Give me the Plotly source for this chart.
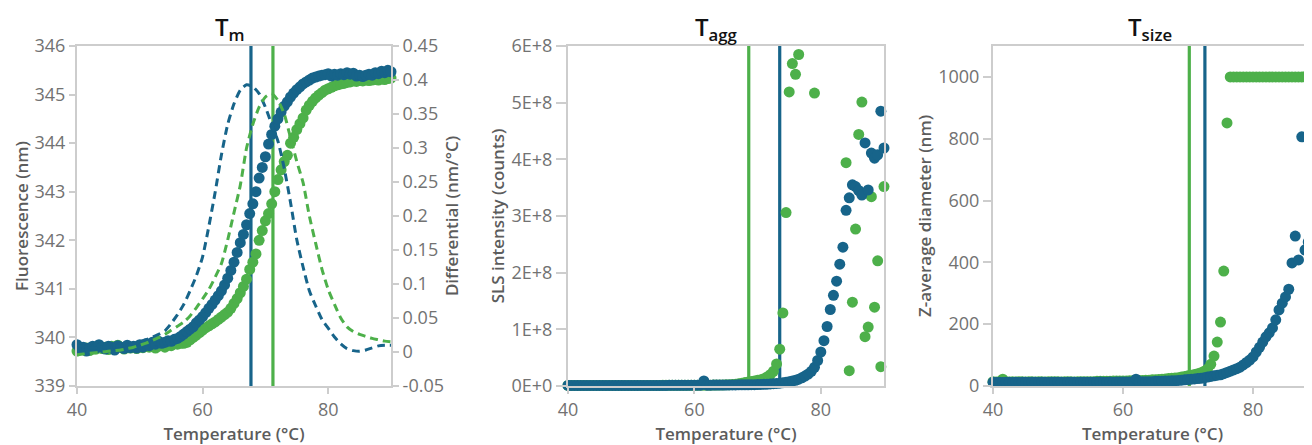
import plotly.graph_objects as go

# ---------------- data ----------------
TEMP_HALF = [
    40.0, 40.5, 41.0, 41.5, 42.0, 42.5, 43.0, 43.5, 44.0, 44.5,
    45.0, 45.5, 46.0, 46.5, 47.0, 47.5, 48.0, 48.5, 49.0, 49.5,
    50.0, 50.5, 51.0, 51.5, 52.0, 52.5, 53.0, 53.5, 54.0, 54.5,
    55.0, 55.5, 56.0, 56.5, 57.0, 57.5, 58.0, 58.5, 59.0, 59.5,
    60.0, 60.5, 61.0, 61.5, 62.0, 62.5, 63.0, 63.5, 64.0, 64.5,
    65.0, 65.5, 66.0, 66.5, 67.0, 67.5, 68.0, 68.5, 69.0, 69.5,
    70.0, 70.5, 71.0, 71.5, 72.0, 72.5, 73.0, 73.5, 74.0, 74.5,
    75.0, 75.5, 76.0, 76.5, 77.0, 77.5, 78.0, 78.5, 79.0, 79.5,
    80.0, 80.5, 81.0, 81.5, 82.0, 82.5, 83.0, 83.5, 84.0, 84.5,
    85.0, 85.5, 86.0, 86.5, 87.0, 87.5, 88.0, 88.5, 89.0, 89.5,
    90.0,
]
TEMP_WHOLE = [
    40, 41, 42, 43, 44, 45, 46, 47, 48, 49,
    50, 51, 52, 53, 54, 55, 56, 57, 58, 59,
    60, 61, 62, 63, 64, 65, 66, 67, 68, 69,
    70, 71, 72, 73, 74, 75, 76, 77, 78, 79,
    80, 81, 82, 83, 84, 85, 86, 87, 88, 89,
    90,
]

# Fluorescence (nm)
FLUO_BLUE = [
    339.85, 339.75, 339.80, 339.72, 339.78, 339.82, 339.78, 339.85, 339.80, 339.76,
    339.82, 339.80, 339.74, 339.83, 339.80, 339.77, 339.84, 339.79, 339.82, 339.78,
    339.85, 339.80, 339.87, 339.83, 339.90, 339.86, 339.92, 339.88, 339.90, 339.93,
    339.92, 339.96, 339.98, 340.02, 340.07, 340.12, 340.17, 340.22, 340.30, 340.36,
    340.43, 340.51, 340.60, 340.68, 340.77, 340.86, 340.96, 341.08, 341.22, 341.38,
    341.55, 341.75, 341.95, 342.12, 342.32, 342.55, 342.75, 343.00, 343.28, 343.50,
    343.72, 343.98, 344.18, 344.35, 344.50, 344.64, 344.76, 344.85, 344.95, 345.03,
    345.10, 345.16, 345.22, 345.26, 345.30, 345.34, 345.36, 345.38, 345.40, 345.41,
    345.43, 345.38, 345.42, 345.40, 345.43, 345.41, 345.45, 345.42, 345.44, 345.38,
    345.40, 345.37, 345.40, 345.42, 345.40, 345.45, 345.43, 345.48, 345.45, 345.50,
    345.47,
]
FLUO_GREEN = [
    339.72, 339.80, 339.75, 339.78, 339.73, 339.80, 339.76, 339.82, 339.77, 339.80,
    339.75, 339.82, 339.78, 339.84, 339.80, 339.76, 339.82, 339.78, 339.80, 339.77,
    339.82, 339.79, 339.84, 339.80, 339.83, 339.78, 339.82, 339.85, 339.80, 339.86,
    339.83, 339.88, 339.86, 339.88, 339.88, 339.90, 339.95, 340.00, 340.05, 340.10,
    340.15, 340.20, 340.24, 340.28, 340.32, 340.37, 340.42, 340.47, 340.52, 340.60,
    340.70, 340.80, 340.92, 341.05, 341.20, 341.40, 341.55, 341.72, 342.00, 342.20,
    342.40, 342.55, 342.75, 343.00, 343.25, 343.45, 343.62, 343.75, 344.00, 344.12,
    344.28, 344.40, 344.52, 344.68, 344.78, 344.86, 344.93, 344.99, 345.04, 345.09,
    345.12, 345.15, 345.18, 345.20, 345.22, 345.23, 345.25, 345.26, 345.28, 345.27,
    345.29, 345.28, 345.30, 345.29, 345.30, 345.31, 345.30, 345.32, 345.31, 345.33,
    345.34,
]

# First derivative (nm/°C)
DERIV_BLUE = [
    0.010, 0.008, 0.006, 0.006, 0.007, 0.007, 0.008, 0.009, 0.010, 0.012,
    0.015, 0.018, 0.022, 0.026, 0.031, 0.042, 0.055, 0.070, 0.090, 0.112,
    0.140, 0.185, 0.235, 0.290, 0.335, 0.365, 0.385, 0.393, 0.390, 0.380,
    0.360, 0.335, 0.310, 0.270, 0.220, 0.165, 0.125, 0.090, 0.068, 0.048,
    0.035, 0.022, 0.012, 0.005, 0.002, 0.001, 0.003, 0.006, 0.009, 0.010,
    0.010,
]
DERIV_GREEN = [
    -0.004, -0.003, -0.002, -0.001, 0.000, 0.001, 0.002, 0.003, 0.005, 0.007,
    0.010, 0.013, 0.017, 0.021, 0.026, 0.032, 0.038, 0.044, 0.053, 0.065,
    0.078, 0.092, 0.110, 0.130, 0.165, 0.205, 0.245, 0.300, 0.335, 0.360,
    0.375, 0.380, 0.370, 0.350, 0.315, 0.280, 0.249, 0.200, 0.160, 0.122,
    0.092, 0.070, 0.050, 0.037, 0.030, 0.026, 0.023, 0.020, 0.018, 0.016,
    0.015,
]

# SLS intensity, in units of 1E+8 counts (None = no point)
SLS_BLUE_E8 = [
    0.010, 0.010, 0.010, 0.010, 0.010, 0.010, 0.010, 0.010, 0.010, 0.010,
    0.010, 0.010, 0.010, 0.010, 0.010, 0.010, 0.010, 0.010, 0.010, 0.010,
    0.010, 0.010, 0.010, 0.010, 0.010, 0.010, 0.010, 0.010, 0.010, 0.010,
    0.010, 0.010, 0.012, 0.012, 0.012, 0.012, 0.013, 0.013, 0.013, 0.014,
    0.014, 0.014, 0.015, 0.090, 0.015, 0.015, 0.016, 0.016, 0.016, 0.017,
    0.017, 0.018, 0.018, 0.019, 0.020, 0.020, 0.021, 0.022, 0.023, 0.024,
    0.026, 0.028, 0.030, 0.033, 0.036, 0.040, 0.045, 0.050, 0.058, 0.065,
    0.075, 0.088, 0.100, 0.120, 0.145, 0.175, 0.210, 0.260, 0.330, 0.450,
    0.600, 0.800, 1.050, 1.350, 1.600, 1.850, 2.150, 2.450, 3.100, 3.320,
    3.550, 3.520, 3.450, 3.370, 4.290, 3.460, 4.110, 4.020, 4.080, 4.850,
    4.200,
]
SLS_GREEN_E8 = [
    0.010, 0.010, 0.010, 0.010, 0.010, 0.010, 0.010, 0.010, 0.010, 0.010,
    0.010, 0.010, 0.010, 0.010, 0.010, 0.010, 0.010, 0.010, 0.010, 0.010,
    0.010, 0.010, 0.010, 0.010, 0.010, 0.010, 0.010, 0.010, 0.010, 0.010,
    0.012, 0.012, 0.012, 0.012, 0.012, 0.012, 0.012, 0.012, 0.012, 0.012,
    0.013, 0.013, 0.014, 0.014, 0.015, 0.015, 0.016, 0.017, 0.018, 0.019,
    0.020, 0.022, 0.025, 0.030, 0.040, 0.050, 0.060, 0.070, 0.080, 0.090,
    0.100, 0.110, 0.130, 0.160, 0.200, 0.260, 0.390, 0.650, 1.290, 3.060,
    5.190, 5.690, 5.500, 5.850, None, None, None, None, 5.170, None,
    None, None, None, None, None, None, None, None, 3.940, 0.270,
    1.480, 2.770, 4.440, 5.010, 0.870, 1.040, 3.340, 1.390, 2.210, 0.340,
    3.520,
]

# Z-average diameter (nm)
SIZE_BLUE = [
    12, 11, 12, 11, 12, 12, 11, 12, 11, 12,
    12, 11, 12, 12, 11, 12, 12, 11, 12, 12,
    12, 12, 11, 12, 12, 12, 11, 12, 12, 12,
    12, 12, 12, 13, 12, 12, 13, 12, 13, 13,
    13, 13, 13, 13, 22, 13, 14, 14, 14, 14,
    15, 15, 15, 16, 16, 17, 17, 18, 19, 20,
    21, 22, 23, 24, 25, 27, 29, 31, 33, 35,
    36, 40, 44, 48, 52, 56, 61, 68, 76, 84,
    94, 110, 125, 142, 159, 172, 188, 214, 246, 268,
    288, 313, 398, 485, 408, 806, 440, 466, 822, 760,
    850,
]
SIZE_GREEN = [
    14, 13, 14, 22, 14, 13, 14, 13, 14, 14,
    13, 14, 14, 13, 14, 14, 13, 14, 14, 14,
    14, 13, 14, 14, 14, 13, 14, 14, 14, 14,
    14, 14, 15, 15, 15, 15, 15, 16, 16, 16,
    16, 16, 17, 17, 17, 18, 18, 19, 19, 20,
    20, 21, 22, 23, 24, 25, 26, 27, 29, 31,
    33, 35, 37, 40, 43, 48, 55, 70, 97, 142,
    207, 372, 851, 1000, 1000, 1000, 1000, 1000, 1000, 1000,
    1000, 1000, 1000, 1000, 1000, 1000, 1000, 1000, 1000, 1000,
    1000, 1000, 1000, 1000, 1000, 1000, 1000, 1000, 1000, 1000,
    1000,
]

# Transition temperatures (°C)
TM_BLUE, TM_GREEN = 67.7, 71.2
TAGG_BLUE, TAGG_GREEN = 73.5, 68.6
TSIZE_BLUE, TSIZE_GREEN = 72.6, 70.2

# Tick labels
DIFF_TICKVALS = [-0.05, 0, 0.05, 0.1, 0.15, 0.2, 0.25, 0.3, 0.35, 0.4, 0.45]
DIFF_TICKTEXT = ["-0.05", "0", "0.05", "0.1", "0.15", "0.2", "0.25", "0.3", "0.35", "0.4", "0.45"]
SLS_TICKVALS_E8 = [0, 1, 2, 3, 4, 5, 6]
SLS_TICKTEXT = ["0E+0", "1E+8", "2E+8", "3E+8", "4E+8", "5E+8", "6E+8"]

# ---------------- styling ----------------
BLUE = "#17648a"
GREEN = "#4db04a"
FRAME = "#cdcdcd"
FONT = "Open Sans"
TICK_FONT = dict(family=FONT, size=18, color="#727272")
AX_TITLE_FONT = dict(family=FONT, size=17, color="#5c5c5c", weight=600)
PAGE_W, PAGE_H, BODY = 1312, 445, 8      # the page body has an 8px margin
W, H = PAGE_W - BODY, PAGE_H - BODY
MS = 11


def fx(p):   # page pixel -> paper fraction
    return (p - BODY) / W


def fy(p):
    return 1 - (p - BODY) / H


Y_DOM = [fy(386), fy(46)]

fig = go.Figure()


def dots(x, y, color, xa, ya):
    fig.add_trace(go.Scatter(
        x=x, y=y, mode="markers", xaxis=xa, yaxis=ya,
        marker=dict(size=MS, color=color, line=dict(width=0)),
        cliponaxis=False, showlegend=False, hoverinfo="skip"))


def dashed(x, y, color, xa, ya):
    fig.add_trace(go.Scatter(
        x=x, y=y, mode="lines", xaxis=xa, yaxis=ya,
        line=dict(color=color, width=3, dash="8px,5px", shape="spline", smoothing=0.6),
        showlegend=False, hoverinfo="skip"))


# Panel 1: Tm
dots(TEMP_HALF, FLUO_GREEN, GREEN, "x", "y")
dots(TEMP_HALF, FLUO_BLUE, BLUE, "x", "y")
dashed(TEMP_WHOLE, DERIV_BLUE, BLUE, "x", "y2")
dashed(TEMP_WHOLE, DERIV_GREEN, GREEN, "x", "y2")

# Panel 2: Tagg
dots(TEMP_HALF, [None if v is None else v * 1e8 for v in SLS_GREEN_E8], GREEN, "x2", "y3")
dots(TEMP_HALF, [v * 1e8 for v in SLS_BLUE_E8], BLUE, "x2", "y3")

# Panel 3: Tsize
dots(TEMP_HALF, SIZE_GREEN, GREEN, "x3", "y4")
dots(TEMP_HALF, SIZE_BLUE, BLUE, "x3", "y4")

# vertical transition lines
for xref, yref, t, c in [
    ("x", "y", TM_BLUE, BLUE), ("x", "y", TM_GREEN, GREEN),
    ("x2", "y3", TAGG_GREEN, GREEN), ("x2", "y3", TAGG_BLUE, BLUE),
    ("x3", "y4", TSIZE_GREEN, GREEN), ("x3", "y4", TSIZE_BLUE, BLUE),
]:
    fig.add_shape(type="line", xref=xref, yref=yref + " domain", x0=t, x1=t, y0=0, y1=1,
                  line=dict(color=c, width=3.2), layer="below")

common_x = dict(
    showline=True, linecolor=FRAME, linewidth=2, mirror=True,
    ticks="outside", ticklen=6, tickwidth=1.5, tickcolor=FRAME,
    showgrid=False, zeroline=False, tickfont=TICK_FONT, automargin=False,
    tickvals=[40, 60, 80],
    title=dict(text="Temperature (°C)", font=AX_TITLE_FONT, standoff=9),
)
common_y = dict(
    showline=True, linecolor=FRAME, linewidth=2, automargin=False,
    ticks="outside", ticklen=6, tickwidth=1.5, tickcolor=FRAME,
    showgrid=False, zeroline=False, tickfont=TICK_FONT, domain=Y_DOM,
)

fig.update_layout(
    width=W, height=H,
    margin=dict(l=0, r=0, t=0, b=0, autoexpand=False),
    paper_bgcolor="white", plot_bgcolor="white",
    font=dict(family=FONT),
    xaxis=dict(common_x, domain=[fx(77), fx(391)], range=[40, 90], anchor="y"),
    yaxis=dict(common_y, range=[339, 346], dtick=1, anchor="x", mirror=False,
               title=dict(text="Fluorescence (nm)", font=AX_TITLE_FONT, standoff=2)),
    yaxis2=dict(common_y, range=[-0.05, 0.45], overlaying="y", side="right", anchor="x",
                tickvals=DIFF_TICKVALS, ticktext=DIFF_TICKTEXT,
                title=dict(text="Differential (nm/°C)", font=AX_TITLE_FONT, standoff=3)),
    xaxis2=dict(common_x, domain=[fx(568), fx(884)], range=[40, 90], anchor="y3"),
    yaxis3=dict(common_y, range=[0, 6e8], anchor="x2", mirror=True, ticklen=10,
                tickvals=[v * 1e8 for v in SLS_TICKVALS_E8], ticktext=SLS_TICKTEXT,
                title=dict(text="SLS intensity (counts)", font=AX_TITLE_FONT, standoff=3)),
    xaxis3=dict(common_x, domain=[fx(993), 1.0], range=[40, 40 + (PAGE_W - 993) / 6.5], anchor="y4"),
    yaxis4=dict(common_y, range=[0, 1100], anchor="x3", mirror=False, ticklen=8,
                tickvals=[0, 200, 400, 600, 800, 1000],
                title=dict(text="Z-average diameter (nm)", font=AX_TITLE_FONT, standoff=2)),
)

for cx, txt in [(230, "T<sub>m</sub>"), (716, "T<sub>agg</sub>"), (1150, "T<sub>size</sub>")]:
    fig.add_annotation(x=fx(cx), y=fy(28), xref="paper", yref="paper",
                       text=txt, showarrow=False, xanchor="center", yanchor="middle",
                       font=dict(family=FONT, size=24, color="#111111", weight=600))

fig.write_html("out.html")
